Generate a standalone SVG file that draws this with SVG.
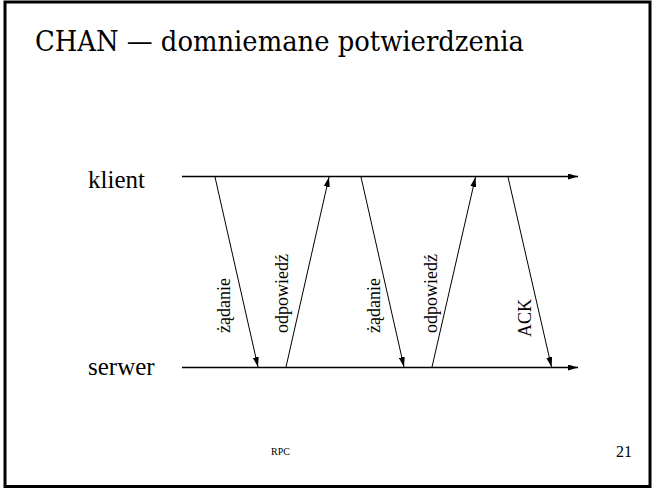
<svg xmlns="http://www.w3.org/2000/svg" width="653" height="490" viewBox="0 0 653 490">
<defs>
<marker id="ah" viewBox="0 0 10 6" refX="10" refY="3" markerWidth="10" markerHeight="6" markerUnits="userSpaceOnUse" orient="auto">
<path d="M0,0 L10,3 L0,6 Z" fill="#000"/>
</marker>
</defs>
<style>
.t{font-family:"Liberation Serif","Times New Roman",serif;fill:#000}
.title{font-family:"DejaVu Serif","Liberation Serif",serif;font-size:28px;fill:#000}
.lbl{font-size:18px}
.axis{stroke:#000;stroke-width:1.6;fill:none}
.msg{stroke:#000;stroke-width:1;fill:none}
</style>
<rect x="0" y="0" width="653" height="490" fill="#fff"/>
<rect x="5" y="2" width="645" height="484.5" fill="none" stroke="#000" stroke-width="3"/>
<text class="title" x="35" y="51" textLength="489" lengthAdjust="spacingAndGlyphs">CHAN — domniemane potwierdzenia</text>
<g id="klient">
<text class="t" x="88" y="188" font-size="25">klient</text>
</g>
<g id="serwer">
<text class="t" x="88" y="375" font-size="25">serwer</text>
</g>
<g id="connectors">
<line class="axis" x1="182" y1="176.5" x2="578" y2="176.5" marker-end="url(#ah)"/>
<line class="axis" x1="182" y1="367.5" x2="578" y2="367.5" marker-end="url(#ah)"/>
<line class="msg" x1="215" y1="177" x2="258" y2="367" marker-end="url(#ah)"/>
<line class="msg" x1="286" y1="367" x2="329" y2="177" marker-end="url(#ah)"/>
<line class="msg" x1="361" y1="177" x2="404" y2="367" marker-end="url(#ah)"/>
<line class="msg" x1="432" y1="367" x2="475.5" y2="177" marker-end="url(#ah)"/>
<line class="msg" x1="508" y1="177" x2="551.5" y2="367" marker-end="url(#ah)"/>
</g>
<g id="labels">
<text class="t lbl" transform="translate(230,333) rotate(-90)">żądanie</text>
<text class="t lbl" transform="translate(287.5,333) rotate(-90)">odpowiedź</text>
<text class="t lbl" transform="translate(380,333) rotate(-90)">żądanie</text>
<text class="t lbl" transform="translate(437,333) rotate(-90)">odpowiedź</text>
<text class="t lbl" transform="translate(531,337) rotate(-90)">ACK</text>
</g>
<text class="t" x="271" y="455" font-size="10">RPC</text>
<text class="t" x="616" y="457" font-size="16">21</text>
</svg>
